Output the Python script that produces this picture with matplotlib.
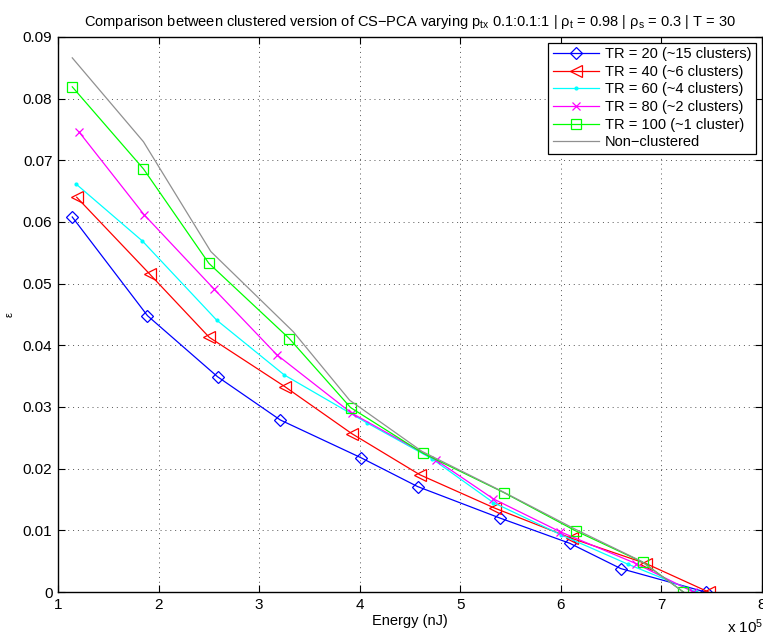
import numpy as np
import matplotlib
matplotlib.use("Agg")
import matplotlib.pyplot as plt
from matplotlib.ticker import FuncFormatter

plt.rcParams['font.family'] = ['Liberation Sans', 'DejaVu Sans']
plt.rcParams['mathtext.default'] = 'regular'

# energy in units of 1e5 nJ, error epsilon
tr20_x = [1.142, 1.890, 2.587, 3.210, 4.010, 4.576, 5.394, 6.090, 6.597, 7.440]
tr20_y = [0.0608, 0.0448, 0.0349, 0.0279, 0.0218, 0.0171, 0.0120, 0.0079, 0.0038, 0.0]

tr40_x = [1.186, 1.915, 2.504, 3.256, 3.920, 4.600, 5.344, 6.110, 6.850, 7.470]
tr40_y = [0.0640, 0.0515, 0.0413, 0.0333, 0.0257, 0.0190, 0.0136, 0.0087, 0.0046, 0.0]

tr60_x = [1.176, 1.840, 2.577, 3.250, 4.075, 4.720, 5.330, 6.000, 6.670, 7.350]
tr60_y = [0.0662, 0.0569, 0.0441, 0.0352, 0.0274, 0.0216, 0.0145, 0.0093, 0.0045, 0.0]

tr80_x = [1.209, 1.855, 2.553, 3.174, 3.920, 4.760, 5.330, 5.990, 6.750, 7.320]
tr80_y = [0.0746, 0.0612, 0.0491, 0.0385, 0.0290, 0.0214, 0.0151, 0.0098, 0.0046, 0.0]

tr100_x = [1.142, 1.850, 2.500, 3.300, 3.910, 4.630, 5.437, 6.150, 6.820, 7.220]
tr100_y = [0.0819, 0.0686, 0.0533, 0.0411, 0.0299, 0.0225, 0.0161, 0.0099, 0.0048, 0.0]

nc_x = [1.142, 1.850, 2.520, 3.340, 3.900, 4.620, 5.420, 6.130, 6.800, 7.220]
nc_y = [0.0866, 0.0730, 0.0552, 0.0422, 0.0311, 0.0228, 0.0163, 0.0103, 0.0050, 0.0]

labels = ['TR = 20 (~15 clusters)', 'TR = 40 (~6 clusters)', 'TR = 60 (~4 clusters)',
          'TR = 80 (~2 clusters)', 'TR = 100 (~1 cluster)', 'Non\u2212clustered']

fig = plt.figure(figsize=(7.63, 6.37), dpi=100)
ax = fig.add_axes([0.076, 0.0706, 0.9225, 0.8715])

lw = 0.9
ax.plot(tr20_x, tr20_y, color='#0000ff', lw=lw, marker='D', ms=6, mfc='none', mew=0.9, label=labels[0])
ax.plot(tr40_x, tr40_y, color='#ff0000', lw=lw, marker='<', ms=8, mfc='none', mew=0.9, label=labels[1])
ax.plot(tr60_x, tr60_y, color='#00ffff', lw=lw, marker='.', ms=4, label=labels[2])
ax.plot(tr80_x, tr80_y, color='#ff00ff', lw=lw, marker='x', ms=6, mew=0.9, label=labels[3])
ax.plot(tr100_x, tr100_y, color='#00ff00', lw=lw, marker='s', ms=7, mfc='none', mew=0.9, label=labels[4])
ax.plot(nc_x, nc_y, color='#909090', lw=lw, label=labels[5])

ax.set_xlim(1, 8)
ax.set_ylim(0, 0.09)
ax.set_xticks(range(1, 9))
ax.set_yticks(np.arange(0, 0.0901, 0.01))
ax.yaxis.set_major_formatter(FuncFormatter(lambda v, p: '0' if abs(v) < 1e-9 else f'{v:.2f}'))
ax.tick_params(direction='in', length=5, width=0.8, top=True, right=True, labelsize=11, pad=4)
ax.grid(True, linestyle=(0, (1, 4)), color='#555555', linewidth=0.7)
for s in ax.spines.values():
    s.set_linewidth(1.0)

ax.set_title('Comparison between clustered version of CS\u2212PCA varying p$_{tx}$ 0.1:0.1:1 | '
             'ρ$_t$ = 0.98 | ρ$_s$ = 0.3 | T = 30', fontsize=10.5, pad=8)
ax.set_xlabel('Energy (nJ)', fontsize=10.5, labelpad=2)
ax.set_ylabel('ε', fontsize=8)
ax.yaxis.set_label_coords(-0.062, 0.5)
fig.text(0.977, 0.002, 'x 10$^5$', fontsize=11, ha='center', va='bottom')

leg = ax.legend(loc='upper right', fontsize=10.5, fancybox=False, edgecolor='black',
                framealpha=1, borderaxespad=0.4, handlelength=3.2, labelspacing=0.25,
                borderpad=0.3, handletextpad=0.4)
leg.get_frame().set_linewidth(0.9)

fig.savefig('out.png', dpi=100)
